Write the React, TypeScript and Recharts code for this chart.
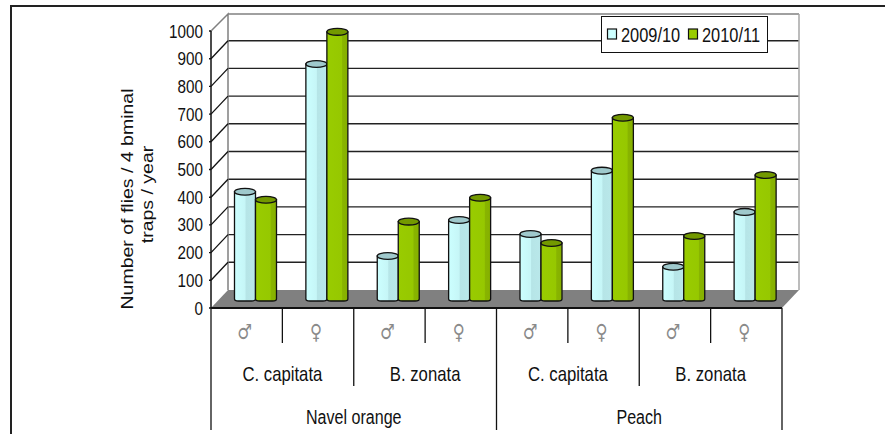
import { BarChart, Bar, XAxis, YAxis, CartesianGrid, Legend, ReferenceArea } from 'recharts';

const sexes = ['♂', '♀', '♂', '♀', '♂', '♀', '♂', '♀'];
const species = ['C. capitata', 'B. zonata', 'C. capitata', 'B. zonata'];
const hosts = ['Navel orange', 'Peach'];
const season1 = [391, 852, 159, 289, 238, 467, 120, 318];
const season2 = [362, 968, 283, 369, 206, 658, 231, 451];
const yTicks = [0, 100, 200, 300, 400, 500, 600, 700, 800, 900, 1000];

const chartData = sexes.map((sex, i) => ({
  slot: i,
  sex,
  season1: season1[i],
  season2: season2[i],
}));

// depth of the fake 3D box: the back wall sits up and to the right of the axes
const DEPTH_X = 17;
const DEPTH_Y = 18;
const BAND = 571 / 8;
const X_SQUEEZE = 0.82;
const FONT = '"Liberation Sans", Arial, sans-serif';

function SqueezedText({ x, y, size = 18.6, anchor = 'middle', children }: any) {
  return (
    <text
      transform={`translate(${x} ${y}) scale(${X_SQUEEZE} 1)`}
      textAnchor={anchor}
      fontFamily={FONT}
      fontSize={size}
      fill="#111"
    >
      {children}
    </text>
  );
}

function RotatedText({ x, y, children }: any) {
  return (
    <text
      transform={`translate(${x} ${y}) scale(${X_SQUEEZE} 1) rotate(-90)`}
      textAnchor="middle"
      fontFamily={FONT}
      fontSize={19.5}
      fill="#111"
    >
      {children}
    </text>
  );
}

// half the box depth, so bars stand in the middle of the floor
function Cylinder({ x, y, width, height, name }: any) {
  const left = x + DEPTH_X / 2;
  const top = y - DEPTH_Y / 2 + 1;
  const bottom = top + height;
  const rx = width / 2;
  const isGreen = name === '2010/11';
  return (
    <g stroke="#111" strokeWidth={1.3}>
      <path
        d={`M${left} ${top} L${left} ${bottom - 1} Q${left} ${bottom + 1} ${left + 4} ${bottom + 1} L${left + width - 4} ${bottom + 1} Q${left + width} ${bottom + 1} ${left + width} ${bottom - 1} L${left + width} ${top} Z`}
        fill={`url(#${isGreen ? 'bodyGreen' : 'bodyCyan'})`}
      />
      <ellipse cx={left + rx} cy={top} rx={rx} ry={3.4} fill={isGreen ? '#739900' : '#9fc9cc'} />
    </g>
  );
}

function WallAndFloor({ x, y, width, height }: any) {
  const base = y + height;
  return (
    <g>
      <path
        d={`M${x} ${y} L${x + DEPTH_X} ${y - DEPTH_Y + 1} L${x + DEPTH_X} ${base - DEPTH_Y}`}
        fill="none"
        stroke="#808080"
        strokeWidth={1.5}
      />
      <path
        d={`M${x + DEPTH_X} ${y - DEPTH_Y + 1} L${x + width + DEPTH_X} ${y - DEPTH_Y + 1}`}
        stroke="#808080"
        strokeWidth={1.5}
      />
      <path
        d={`M${x + width + DEPTH_X} ${y - DEPTH_Y + 1} L${x + width + DEPTH_X} ${base - DEPTH_Y}`}
        stroke="#a6a6a6"
        strokeWidth={1.5}
      />
      <path
        d={`M${x} ${base} L${x + DEPTH_X} ${base - DEPTH_Y} L${x + width + DEPTH_X} ${base - DEPTH_Y} L${x + width} ${base} Z`}
        fill="#808080"
      />
    </g>
  );
}

function WallLine({ x1, x2, y1, y2, index }: any) {
  // first and last grid lines are the floor edge and the top of the wall
  if (y1 <= 32 || y1 >= 307) return <g key={index} />;
  return (
    <line
      key={index}
      x1={x1 + DEPTH_X}
      x2={x2 + DEPTH_X}
      y1={y1 - DEPTH_Y}
      y2={y2 - DEPTH_Y}
      stroke="#222"
      strokeWidth={1.4}
    />
  );
}

function ValueTick({ x, y, payload }: any) {
  const ends = payload.value === 0 || payload.value === 1000;
  return (
    <g>
      <line x1={x - 2} x2={x} y1={y} y2={y} stroke="#111" strokeWidth={1.4} />
      {!ends && (
        <line x1={x} x2={x + DEPTH_X} y1={y} y2={y - DEPTH_Y} stroke="#111" strokeWidth={1.3} />
      )}
      <SqueezedText x={x - 8} y={y + 6.5} anchor="end">
        {payload.value}
      </SqueezedText>
    </g>
  );
}

// three-level category axis: sex, then species, then host
function GroupTick({ x, y, index }: any) {
  const right = x + BAND / 2;
  const left = x - BAND / 2;
  const edge = (xPos: number, y2: number) => (
    <line x1={xPos} x2={xPos} y1={y} y2={y2} stroke="#111" strokeWidth={1.3} />
  );
  return (
    <g>
      <text
        transform={`translate(${x - 2} ${y + 31}) scale(0.78 1)`}
        textAnchor="middle"
        fontFamily='"DejaVu Sans", sans-serif'
        fontSize={21}
        fill="#8a8a8a"
      >
        {sexes[index]}
      </text>
      {index % 2 === 0 && edge(right, y + 35)}
      {index % 4 === 1 && edge(right, y + 78)}
      {index % 4 === 3 && edge(right, y + 122)}
      {index === 0 && edge(left, y + 122)}
      {index % 2 === 1 && (
        <SqueezedText x={left} y={y + 73} size={20.4}>
          {species[Math.floor(index / 2)]}
        </SqueezedText>
      )}
      {index % 4 === 1 && (
        <SqueezedText x={right} y={y + 116} size={19.6}>
          {hosts[Math.floor(index / 4)]}
        </SqueezedText>
      )}
    </g>
  );
}

function LegendBox({ payload }: any) {
  const items = payload ?? [];
  return (
    <svg width={167} height={38} style={{ display: 'block' }}>
      <rect x={0.5} y={0.5} width={166} height={36} fill="#fff" stroke="#111" strokeWidth={1} />
      {items.map((item: any, i: number) => (
        <g key={item.value}>
          <rect x={6.5 + i * 81} y={13} width={9} height={10} fill={item.color} stroke="#111" strokeWidth={1.2} />
          <SqueezedText x={20 + i * 81} y={25.5} size={20} anchor="start">
            {item.value}
          </SqueezedText>
        </g>
      ))}
    </svg>
  );
}

export default function App() {
  return (
    <div style={{ position: 'absolute', left: 0, top: 0, width: 885, height: 434, overflow: 'hidden', background: '#fff' }}>
      {/* frame around the figure, open on the right and at the bottom */}
      <div
        style={{
          position: 'absolute',
          left: 10,
          top: 5,
          right: 0,
          bottom: 0,
          borderLeft: '2px solid #222',
          borderTop: '2px solid #222',
        }}
      />
      <div style={{ position: 'absolute', left: 0, top: 0 }}>
        <BarChart
          width={885}
          height={434}
          data={chartData}
          margin={{ top: 31, left: 151, right: 103, bottom: 0 }}
          barCategoryGap={15}
          barGap={0}
        >
          <defs>
            <linearGradient id="bodyCyan" x1="0" x2="1" y1="0" y2="0">
              <stop offset="0" stopColor="#ccffff" />
              <stop offset="0.5" stopColor="#c6f6f7" />
              <stop offset="0.55" stopColor="#b6e5e7" />
              <stop offset="1" stopColor="#b9e8ea" />
            </linearGradient>
            <linearGradient id="bodyGreen" x1="0" x2="1" y1="0" y2="0">
              <stop offset="0" stopColor="#99cc00" />
              <stop offset="0.7" stopColor="#96c800" />
              <stop offset="0.75" stopColor="#88b400" />
              <stop offset="1" stopColor="#86b000" />
            </linearGradient>
          </defs>
          <ReferenceArea y1={0} y2={1000} shape={<WallAndFloor />} ifOverflow="visible" />
          <CartesianGrid vertical={false} horizontal={(props: any) => <WallLine {...props} />} />
          <XAxis
            dataKey="slot"
            type="category"
            height={126}
            interval={0}
            tickLine={false}
            tickSize={0}
            tickMargin={0}
            axisLine={{ stroke: '#111', strokeWidth: 2 }}
            tick={<GroupTick />}
          />
          <YAxis
            width={60}
            domain={[0, 1000]}
            ticks={yTicks}
            interval={0}
            tickLine={false}
            tickSize={0}
            tickMargin={0}
            axisLine={{ stroke: '#111', strokeWidth: 1.5 }}
            tick={<ValueTick />}
          />
          <Legend
            layout="horizontal"
            verticalAlign="middle"
            align="center"
            content={<LegendBox />}
            wrapperStyle={{ position: 'absolute', left: 601, top: 16, width: 167, height: 38 }}
          />
          <Bar dataKey="season1" name="2009/10" fill="#ccffff" shape={<Cylinder />} isAnimationActive={false} />
          <Bar dataKey="season2" name="2010/11" fill="#99cc00" shape={<Cylinder />} isAnimationActive={false} />
          <RotatedText x={133} y={199}>
            Number of flies / 4 bminal
          </RotatedText>
          <RotatedText x={153} y={194.5}>
            traps / year
          </RotatedText>
        </BarChart>
      </div>
    </div>
  );
}
